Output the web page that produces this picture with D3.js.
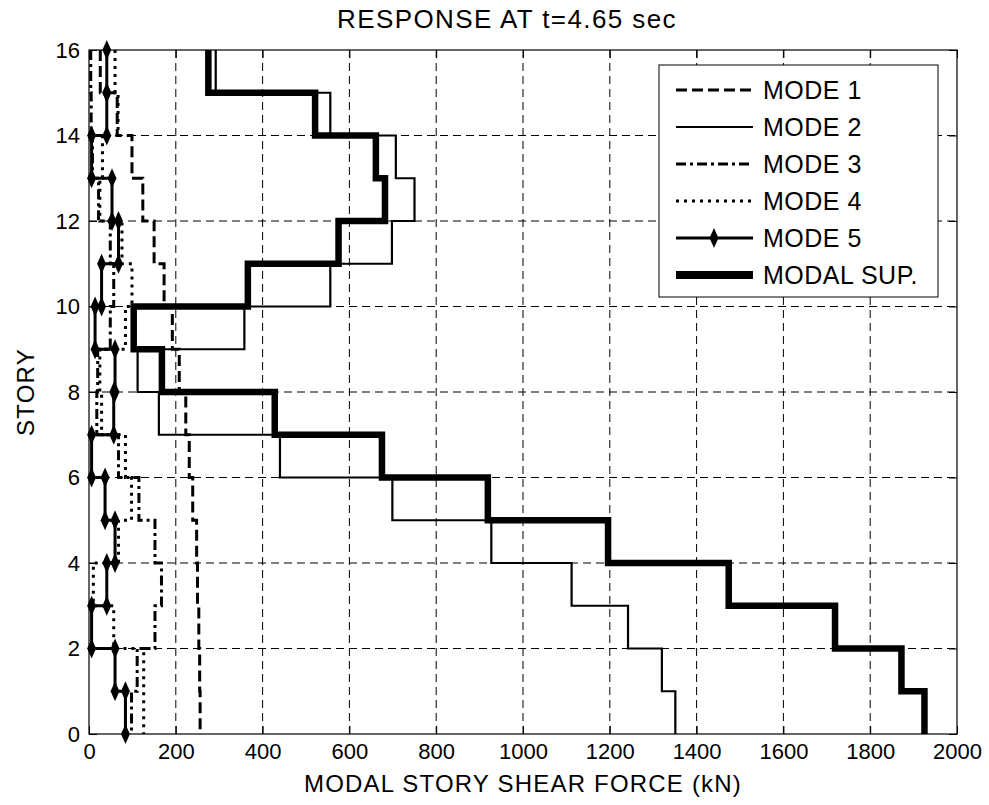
<!DOCTYPE html>
<html lang="en">
<head>
<meta charset="UTF-8">
<title>Response at t=4.65 sec</title>
<style>
  body { margin: 0; background: #fff; }
  text { font-family: "Liberation Sans", Arial, Helvetica, sans-serif; fill: #000; }
  .grid line { stroke: #000; stroke-width: 1; stroke-dasharray: 8,5; }
  .domain { display: none; }
</style>
</head>
<body>
<svg id="svg" width="989" height="805"></svg>
<script src="https://d3js.org/d3.v7.min.js"></script>
<script>
// story segment i spans from story i-1 to story i (bottom -> top)
const stories = [1, 2, 3, 4, 5, 6, 7, 8, 9, 10, 11, 12, 13, 14, 15, 16]
const mode1 = [256, 255, 253, 250, 248, 239, 231, 223, 208, 192, 173, 150, 124, 99, 65, 26]
const mode2 = [1351, 1320, 1242, 1112, 927, 699, 440, 161, 112, 358, 556, 698, 750, 707, 556, 292]
const mode3 = [98, 111, 152, 167, 152, 115, 68, 18, 20, 49, 57, 49, 22, 8, 5, 4]
const mode4 = [126, 126, 57, 10, 68, 98, 84, 29, 25, 84, 99, 76, 25, 31, 67, 60]
const mode5 = [84, 60, 6, 41, 60, 37, 6, 57, 60, 14, 29, 68, 53, 6, 41, 41]
const modalSup = [1925, 1872, 1719, 1474, 1196, 919, 675, 428, 168, 103, 366, 575, 682, 661, 521, 275]

const xTicks = [0, 200, 400, 600, 800, 1000, 1200, 1400, 1600, 1800, 2000]
const yTicks = [0, 2, 4, 6, 8, 10, 12, 14, 16]
const seriesNames = ["MODE 1", "MODE 2", "MODE 3", "MODE 4", "MODE 5", "MODAL SUP."]

const svg = d3.select("svg#svg")
const width = +svg.attr("width")
const height = +svg.attr("height")
const padding = { top: 50, right: 32, bottom: 71, left: 89 }
const innerWidth = width - padding.left - padding.right
const innerHeight = height - padding.top - padding.bottom

const x = d3.scaleLinear().domain([0, 2000]).range([padding.left, padding.left + innerWidth])
const y = d3.scaleLinear().domain([0, 16]).range([padding.top + innerHeight, padding.top])

// grid
const grid = svg.append("g").attr("class", "grid")
grid.selectAll("line.v").data(xTicks.slice(1, -1)).join("line").attr("class", "v")
    .attr("x1", d => x(d)).attr("x2", d => x(d)).attr("y1", y(16)).attr("y2", y(0))
grid.selectAll("line.h").data(yTicks.slice(1, -1)).join("line").attr("class", "h")
    .attr("x1", x(0)).attr("x2", x(2000)).attr("y1", d => y(d)).attr("y2", d => y(d))

// axes (inward ticks on all four sides)
const tickLen = 8
svg.append("g").attr("transform", `translate(0,${y(0)})`)
    .call(d3.axisBottom(x).tickValues(xTicks).tickSize(-tickLen).tickPadding(9).tickFormat(d3.format("d")))
    .call(g => g.selectAll("text").attr("font-size", 22))
svg.append("g").attr("transform", `translate(0,${y(16)})`)
    .call(d3.axisTop(x).tickValues(xTicks).tickSize(-tickLen))
    .call(g => g.selectAll("text").remove())
svg.append("g").attr("transform", `translate(${x(0)},0)`)
    .call(d3.axisLeft(y).tickValues(yTicks).tickSize(-tickLen).tickPadding(9).tickFormat(d3.format("d")))
    .call(g => g.selectAll("text").attr("font-size", 22))
svg.append("g").attr("transform", `translate(${x(2000)},0)`)
    .call(d3.axisRight(y).tickValues(yTicks).tickSize(-tickLen))
    .call(g => g.selectAll("text").remove())
svg.selectAll(".tick line").attr("stroke", "#000").attr("stroke-width", 1)

// stair path points: top story down to ground
function stairs(values) {
    const pts = []
    for (let i = stories.length - 1; i >= 0; i--) {
        pts.push([values[i], stories[i]])
        pts.push([values[i], stories[i] - 1])
    }
    return pts
}
const line = d3.line().x(d => x(d[0])).y(d => y(d[1]))

const styles = [
    { data: mode1, width: 3, dash: "11,5" },
    { data: mode2, width: 2.2, dash: null },
    { data: mode3, width: 3, dash: "10,4,3,4" },
    { data: mode4, width: 3, dash: "3,5" },
    { data: mode5, width: 3, dash: null, marker: true },
    { data: modalSup, width: 6.5, dash: null }
]

const plot = svg.append("g")
styles.forEach(s => {
    plot.append("path").datum(stairs(s.data))
        .attr("fill", "none").attr("stroke", "#000")
        .attr("stroke-width", s.width)
        .attr("stroke-dasharray", s.dash)
        .attr("stroke-linejoin", "miter")
        .attr("d", line)
    if (s.marker) {
        plot.selectAll(null).data(stairs(s.data)).join("path")
            .attr("transform", d => `translate(${x(d[0])},${y(d[1])}) scale(0.85,1.1)`)
            .attr("d", d3.symbol(d3.symbolDiamond, 95))
            .attr("fill", "#000")
    }
})

// box
svg.append("rect").attr("x", x(0)).attr("y", y(16)).attr("width", innerWidth).attr("height", innerHeight)
    .attr("fill", "none").attr("stroke", "#000").attr("stroke-width", 1.2)

// legend
const legend = svg.append("g").attr("transform", "translate(659,65)")
legend.append("rect").attr("width", 279).attr("height", 232)
    .attr("fill", "#fff").attr("stroke", "#000").attr("stroke-width", 1)
const items = legend.selectAll("g.item").data(seriesNames).join("g").attr("class", "item")
    .attr("transform", (d, i) => `translate(0,${25 + i * 37})`)
items.append("line").attr("x1", 17).attr("x2", 94).attr("y1", 0).attr("y2", 0)
    .attr("stroke", "#000")
    .attr("stroke-width", (d, i) => styles[i].width === 6.5 ? 8 : styles[i].width)
    .attr("stroke-dasharray", (d, i) => styles[i].dash)
items.filter((d, i) => styles[i].marker).append("path")
    .attr("transform", "translate(55,0) scale(0.85,1.1)")
    .attr("d", d3.symbol(d3.symbolDiamond, 95)).attr("fill", "#000")
items.append("text").attr("x", 104).attr("dy", "0.36em")
    .attr("font-size", 25).style("letter-spacing", "0.5px")
    .text(d => d)

// titles
svg.append("text").attr("x", 507).attr("y", 28).attr("text-anchor", "middle")
    .attr("font-size", 26).style("letter-spacing", "1.4px")
    .text("RESPONSE AT t=4.65 sec")
svg.append("text").attr("x", x(1000)).attr("y", 792).attr("text-anchor", "middle")
    .attr("font-size", 24).style("letter-spacing", "1.2px")
    .text("MODAL STORY SHEAR FORCE (kN)")
svg.append("text").attr("transform", `translate(34,${y(8)}) rotate(-90)`).attr("text-anchor", "middle")
    .attr("font-size", 24).style("letter-spacing", "1.2px")
    .text("STORY")
</script>
</body>
</html>
